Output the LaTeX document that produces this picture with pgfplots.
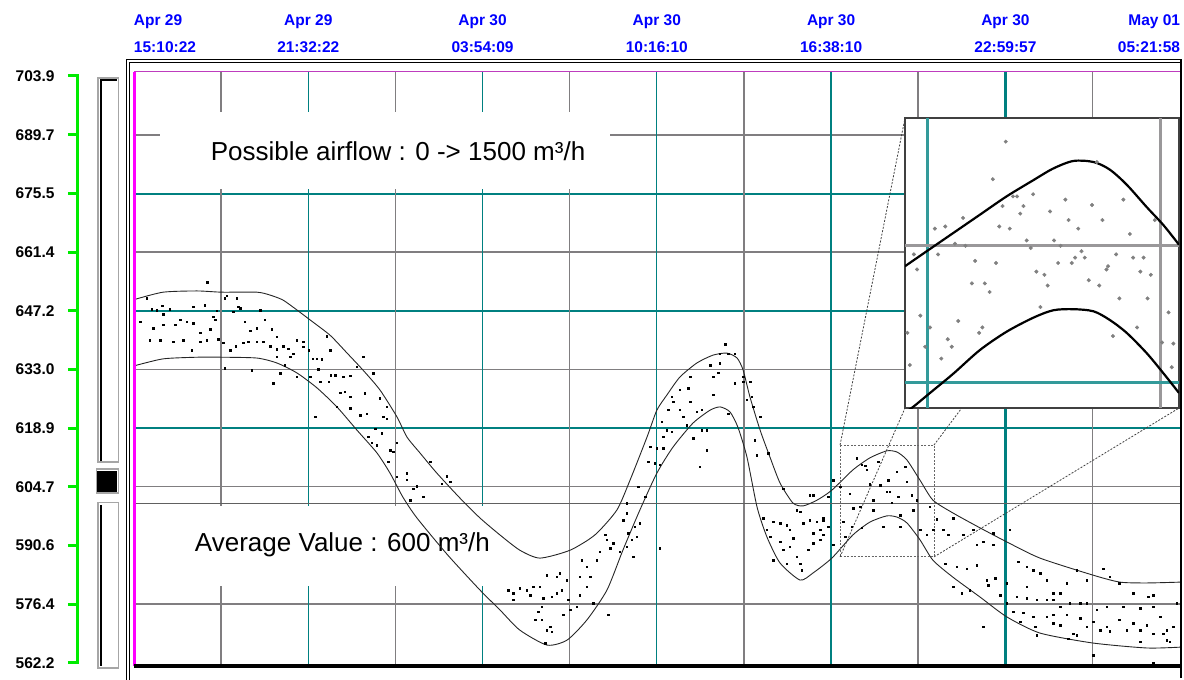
\documentclass[border=0pt]{standalone}
\usepackage{pgfplots}
\pgfplotsset{compat=1.18}
\usepackage{fontspec}
\setmainfont{Liberation Sans}
\definecolor{tealg}{RGB}{0,128,128}
\definecolor{gridg}{RGB}{128,126,128}
\definecolor{avgg}{RGB}{96,96,96}
\definecolor{magl}{RGB}{255,0,255}
\definecolor{topl}{RGB}{190,60,190}
\definecolor{grn}{RGB}{0,235,0}
\definecolor{lblue}{RGB}{0,0,255}
\begin{document}
\begin{tikzpicture}
\useasboundingbox (0pt,0pt) rectangle (1184pt,-680pt);
\begin{axis}[
  at={(134pt,-666pt)}, anchor=south west,
  width=1046pt, height=595pt, scale only axis,
  xmin=0, xmax=38.193, ymin=561.45, ymax=705.1,
  axis line style={draw=none},
  tick style={draw=none}, major tick length=0pt,
  clip=false,
  xtick={0,6.3634,12.7268,19.0902,25.4536,31.817,38.193},
  xticklabel pos=upper,
  xticklabels={
    {\rlap{\begin{tabular}{@{}l@{}}Apr 29\\15:10:22\end{tabular}}},
    {\begin{tabular}{@{}c@{}}Apr 29\\21:32:22\end{tabular}},
    {\begin{tabular}{@{}c@{}}Apr 30\\03:54:09\end{tabular}},
    {\begin{tabular}{@{}c@{}}Apr 30\\10:16:10\end{tabular}},
    {\begin{tabular}{@{}c@{}}Apr 30\\16:38:10\end{tabular}},
    {\begin{tabular}{@{}c@{}}Apr 30\\22:59:57\end{tabular}},
    {\llap{\begin{tabular}{@{}r@{}}May 01\\05:21:58\end{tabular}}}},
  xticklabel style={anchor=south, text=lblue, yshift=7.5pt, font=\bfseries\fontsize{15.5}{26.5}\selectfont},
  ytick={562.2,576.4,590.6,604.7,618.9,633.0,647.2,661.4,675.5,689.7,703.9},
  yticklabels={562.2,576.4,590.6,604.7,618.9,633.0,647.2,661.4,675.5,689.7,703.9},
  yticklabel style={anchor=east, xshift=-76pt, font=\bfseries\fontsize{15.5}{18}\selectfont},
]
% horizontal grid
\draw[gridg, line width=2pt] (axis cs:0,689.7) -- (axis cs:38.193,689.7);
\draw[tealg, line width=2pt] (axis cs:0,675.5) -- (axis cs:38.193,675.5);
\draw[gridg, line width=1.2pt] (axis cs:0,661.4) -- (axis cs:38.193,661.4);
\draw[tealg, line width=2.6pt] (axis cs:0,647.2) -- (axis cs:38.193,647.2);
\draw[gridg, line width=1.2pt] (axis cs:0,633.0) -- (axis cs:38.193,633.0);
\draw[tealg, line width=1.2pt] (axis cs:0,618.9) -- (axis cs:38.193,618.9);
\draw[gridg, line width=1.2pt] (axis cs:0,604.7) -- (axis cs:38.193,604.7);
\draw[gridg, line width=1.2pt] (axis cs:0,576.4) -- (axis cs:38.193,576.4);
% vertical grid
\draw[gridg, line width=1.8pt] (axis cs:3.182,561.45) -- (axis cs:3.182,705.1);
\draw[tealg, line width=1.1pt] (axis cs:6.363,561.45) -- (axis cs:6.363,705.1);
\draw[gridg, line width=1.6pt] (axis cs:9.545,561.45) -- (axis cs:9.545,705.1);
\draw[tealg, line width=1.1pt] (axis cs:12.727,561.45) -- (axis cs:12.727,705.1);
\draw[gridg, line width=1.6pt] (axis cs:15.908,561.45) -- (axis cs:15.908,705.1);
\draw[tealg, line width=1.1pt] (axis cs:19.090,561.45) -- (axis cs:19.090,705.1);
\draw[gridg, line width=1.6pt] (axis cs:22.272,561.45) -- (axis cs:22.272,705.1);
\draw[tealg, line width=2.7pt] (axis cs:25.454,561.45) -- (axis cs:25.454,705.1);
\draw[gridg, line width=2.3pt] (axis cs:28.635,561.45) -- (axis cs:28.635,705.1);
\draw[tealg, line width=2.7pt] (axis cs:31.817,561.45) -- (axis cs:31.817,705.1);
\draw[gridg, line width=1.2pt] (axis cs:34.999,561.45) -- (axis cs:34.999,705.1);
% annotation boxes
\fill[white] (axis cs:0.95,695.2) rectangle (axis cs:17.38,676.6);
\node[anchor=base, font=\fontsize{26}{30}\selectfont] at (axis cs:9.64,683.4) {Possible airflow : 0 -> 1500 m³/h};
\fill[white] (axis cs:0.22,600.1) rectangle (axis cs:14.09,580.8);
\draw[avgg, line width=1.8pt] (axis cs:0,600.7) -- (axis cs:38.193,600.7);
\node[anchor=base, font=\fontsize{26}{30}\selectfont] at (axis cs:7.61,589.0) {Average Value : 600 m³/h};
% green left axis
\draw[grn, line width=3pt] ([xshift=-56pt]axis cs:0,562.0) -- ([xshift=-56pt]axis cs:0,704.2);
\pgfplotsinvokeforeach{562.2,576.4,590.6,604.7,618.9,633.0,647.2,661.4,675.5,689.7,703.9}{
  \draw[grn, line width=3pt] ([xshift=-66pt]axis cs:0,#1) -- ([xshift=-55pt]axis cs:0,#1);
}
% scatter
\addplot[only marks, mark=square*, mark size=0.75pt, black] coordinates {
(2.68,654.1) (0.46,650.2) (1.03,648.4) (1.31,647.6) (0.65,647.6) (0.83,647.4) (1.07,646.4) (0.22,644.6) (0.71,643.0) (1.07,643.8)
(1.50,643.8) (1.68,645.1) (1.92,644.6) (2.17,644.2) (2.41,641.9) (2.78,642.8) (2.96,645.0) (2.90,645.8) (3.02,647.2) (2.59,648.6)
(2.17,648.2) (3.38,650.8) (3.32,650.2) (3.75,650.2) (3.81,648.2) (3.63,647.0) (3.87,647.8) (4.05,644.6) (4.24,642.4) (4.48,643.0)
(4.78,645.0) (5.03,642.8) (5.21,641.0) (4.60,647.4) (0.58,640.1) (0.95,640.1) (1.44,639.7) (1.80,640.1) (2.11,637.7) (2.41,639.7)
(2.65,640.1) (3.08,640.4) (3.26,639.5) (3.51,637.7) (3.72,638.7) (3.99,639.5) (4.17,639.7) (4.48,639.7) (4.72,639.7) (4.97,638.7)
(5.21,637.9) (5.45,638.7) (5.63,638.1) (5.82,636.9) (5.94,640.1) (6.18,639.7) (6.37,637.7) (6.52,635.7) (6.67,635.7) (6.85,635.5)
(7.03,641.1) (7.16,637.7) (6.73,633.1) (7.18,631.7) (7.34,631.7) (7.64,631.3) (7.89,631.5) (8.37,636.1) (8.74,632.1) (8.13,633.7)
(6.43,631.3) (5.94,631.3) (5.51,634.1) (5.33,632.1) (4.30,632.9) (3.32,633.3) (5.09,629.7) (6.79,630.1) (7.10,630.1) (7.52,627.4)
(7.70,627.7) (7.89,626.5) (8.43,627.3) (8.98,626.1) (9.22,624.1) (7.40,624.1) (7.89,623.7) (8.25,622.0) (8.50,622.4) (8.80,618.8)
(9.10,621.6) (9.22,621.2) (6.61,621.6) (8.56,616.8) (8.68,615.4) (8.86,614.8) (9.04,617.6) (9.35,613.6) (9.47,613.2) (9.59,615.4)
(9.29,610.8) (9.59,607.2) (9.96,608.0) (9.96,606.4) (10.20,604.3) (10.32,604.9) (10.56,602.3) (10.08,601.5) (10.81,610.8) (11.42,607.3)
(11.54,606.0) (11.23,605.5) (5.21,636.1) (5.70,636.1) (6.18,638.5)
(21.58,639.2) (21.39,636.9) (21.70,636.8) (21.94,636.8) (21.03,634.1) (21.39,634.5) (21.15,631.3) (21.33,632.3) (21.94,629.7) (22.25,630.1)
(22.49,630.1) (20.30,631.3) (20.24,628.5) (19.93,628.2) (19.63,626.5) (19.69,625.3) (20.30,625.3) (19.51,623.3) (19.93,623.3) (20.06,621.6)
(20.54,622.8) (20.73,623.3) (21.15,626.9) (21.70,622.4) (22.25,631.3) (22.37,625.7) (22.61,624.1) (22.86,621.6) (22.55,626.5) (19.27,620.4)
(19.45,618.4) (19.63,618.0) (19.33,616.8) (20.18,619.6) (20.42,616.4) (20.73,618.4) (20.91,618.4) (18.84,614.4) (19.08,614.0) (19.33,614.0)
(18.78,610.8) (19.02,610.4) (19.20,610.0) (20.66,609.6) (20.91,613.6) (22.67,616.0) (22.73,612.4) (23.16,612.8) (23.71,604.3) (18.66,602.3)
(18.41,604.7) (17.99,600.7) (17.99,598.3) (17.87,596.7) (18.29,595.1) (18.47,595.9) (18.35,592.7) (18.17,591.9) (17.99,590.3) (17.74,589.1)
(17.50,591.1) (17.20,593.1) (17.26,591.9) (17.38,589.9) (17.01,589.1) (16.89,587.0) (16.53,585.4) (16.34,587.0) (16.28,583.0) (16.65,583.0)
(16.53,580.6) (16.28,578.6) (15.86,577.4) (15.61,579.8) (15.55,583.8) (15.43,583.0) (15.80,582.2) (15.07,583.4) (14.82,580.6) (14.58,580.6)
(14.34,579.8) (14.09,580.2) (13.85,579.0) (13.67,579.8) (13.85,577.4) (14.46,578.6) (14.94,577.8) (15.25,578.2) (15.43,579.0) (14.88,575.8)
(14.76,574.6) (14.64,572.6) (14.88,572.6) (15.19,570.9) (15.25,569.7) (15.07,570.1) (15.01,566.9) (15.68,573.8) (15.92,575.0) (16.16,575.8)
(16.77,576.6) (17.32,573.8) (18.05,593.5) (18.23,587.8) (19.20,589.9) (22.98,597.1) (23.34,596.3) (23.10,594.3) (23.59,595.9) (23.83,595.5)
(24.19,599.1) (24.32,598.7) (24.68,602.7) (24.80,602.7) (25.35,602.3) (24.68,596.7) (24.44,595.9) (24.92,596.3) (25.17,596.7) (23.22,592.7)
(23.59,591.5) (24.07,592.3) (23.95,594.3) (24.80,593.5) (25.05,594.3) (25.17,593.1) (23.34,587.0) (23.71,589.5) (23.95,590.3) (24.19,587.8)
(23.83,586.2) (24.80,591.1) (25.05,591.9) (24.32,586.2) (24.38,584.6) (24.62,589.5)
(25.53,606.3) (25.78,604.7) (26.14,603.1) (26.38,611.6) (26.57,610.0) (26.75,608.8) (26.69,609.8) (26.87,605.3) (26.99,601.5) (27.24,605.1)
(27.48,603.5) (27.60,603.5) (27.66,600.9) (27.91,602.3) (28.15,609.6) (28.21,605.9) (27.85,608.4) (27.54,606.3) (27.18,610.8) (28.39,602.7)
(28.58,601.5) (26.26,599.5) (26.51,599.9) (26.99,599.1) (27.97,595.1) (28.45,599.1) (29.06,599.9) (29.30,596.9) (28.70,594.3) (28.94,593.1)
(29.18,594.3) (29.55,594.3) (29.73,593.2) (25.17,597.1) (25.17,593.1) (25.35,595.1) (25.90,596.3) (26.20,595.1) (26.57,594.8) (25.53,590.7)
(25.96,592.7) (27.36,595.1) (27.97,597.9) (29.91,597.1) (30.28,593.1) (30.64,594.3) (30.77,590.7) (31.37,593.5) (31.98,594.3) (31.01,591.5)
(31.37,590.7) (29.61,586.2) (30.04,585.4) (30.40,585.0) (30.77,585.8) (31.13,582.2) (31.19,581.0) (31.44,582.6) (31.86,581.4) (32.29,586.6)
(32.59,585.4) (32.83,584.6) (33.08,583.8) (33.32,582.2) (33.57,579.0) (33.81,579.0) (34.05,581.4) (34.42,584.6) (34.78,582.2) (35.39,585.0)
(35.63,583.0) (35.98,581.4) (36.49,579.0) (37.03,578.2) (37.22,578.6) (38.07,576.6) (37.22,575.8) (36.73,575.4) (36.12,575.8) (35.51,575.8)
(35.15,575.0) (34.78,576.6) (34.54,576.6) (34.17,576.6) (33.81,575.8) (33.57,577.4) (33.32,577.4) (32.96,577.4) (32.59,577.8) (32.23,578.2)
(31.86,576.6) (31.62,578.6) (32.59,580.6) (32.10,574.6) (32.47,574.3) (32.83,573.4) (33.32,573.4) (33.57,573.8) (34.05,573.8) (34.54,573.0)
(35.03,572.2) (35.51,571.0) (35.98,572.6) (36.49,571.8) (36.97,571.3) (37.46,573.4) (37.95,570.9) (32.35,572.2) (32.90,570.9) (33.57,571.8)
(34.29,569.3) (34.78,570.9) (35.27,570.1) (35.63,569.9) (36.24,570.1) (36.73,570.1) (37.22,569.3) (37.58,569.3) (37.82,567.3) (37.70,570.1)
(29.91,580.6) (30.52,579.8) (30.22,579.0) (31.01,570.9) (35.03,564.1) (37.22,562.1) (34.42,568.9) (34.11,568.1) (36.73,567.3) (37.70,567.7)
(33.81,571.3) (32.96,568.9)
};
% envelope curves
\addplot[black!85, line width=0.9pt, smooth, tension=0.4] coordinates {
(0,649.9) (1.06,651.7) (2.30,652.0) (3.21,651.7) (4.49,651.7) (4.97,651.0) (5.44,649.8) (5.95,647.4) (6.43,645.0) (7.16,641.3)
(7.78,637.0) (8.36,632.9) (8.98,628.1) (9.60,621.6) (9.97,616.7) (10.44,612.9) (11.06,608.0) (11.90,602.0) (12.63,597.2) (13.36,593.1)
(14.09,589.4) (14.82,587.5) (15.92,589.4) (16.83,593.1) (17.63,599.1) (18.11,606.3) (18.73,616.7) (19.09,623.2) (19.46,626.9) (19.93,631.2)
(20.55,634.6) (21.14,636.5) (21.65,637.0) (22.02,635.8) (22.24,632.9) (22.49,626.4) (22.86,618.4) (23.22,611.9) (23.59,605.6) (24.06,600.8)
(24.43,600.1) (24.94,601.5) (25.48,603.9) (26.25,608.8) (26.87,611.7) (27.49,613.4) (27.86,613.1) (28.22,611.2) (28.70,606.3) (29.17,601.5)
(29.90,598.4) (30.89,594.8) (31.87,591.4) (33.08,587.5) (35.01,583.4) (36.00,581.7) (36.98,581.5) (38.19,581.7)
};
\addplot[black!85, line width=0.9pt, smooth, tension=0.4] coordinates {
(0,633.9) (1.06,635.6) (2.30,636.0) (3.21,636.0) (4.49,635.8) (5.22,634.6) (5.95,632.2) (6.68,628.6) (7.41,624.0) (8.14,618.4)
(8.87,612.9) (9.35,608.0) (9.82,602.2) (10.33,597.2) (11.46,588.2) (12.63,579.8) (13.36,575.0) (14.09,570.1) (15.08,566.5) (15.81,567.7)
(16.54,572.6) (17.27,579.8) (17.85,589.4) (18.47,599.1) (19.09,608.0) (19.68,614.3) (20.41,620.1) (21.03,623.2) (21.40,624.0) (21.76,622.8)
(22.05,619.1) (22.38,611.9) (22.75,599.8) (23.11,592.6) (23.59,586.3) (24.32,582.2) (24.79,583.9) (25.48,587.5) (26.25,593.1) (26.87,596.2)
(27.49,597.7) (27.86,597.4) (28.22,596.0) (28.70,591.9) (29.17,587.0) (29.90,582.9) (30.89,578.1) (31.87,573.3) (33.08,569.4) (35.01,567.0)
(36.98,565.8) (38.19,566.0)
};
% zoom rectangle and connectors
\draw[black!60, line width=0.9pt, dash pattern=on 2pt off 1.5pt] (axis cs:25.78,614.8) rectangle (axis cs:29.21,587.8);
\draw[black!75, line width=0.8pt, dash pattern=on 2pt off 1.5pt] (axis cs:25.78,614.8) -- (axis cs:28.15,693.7);
\draw[black!75, line width=0.8pt, dash pattern=on 2pt off 1.5pt] (axis cs:25.78,587.8) -- (axis cs:28.15,623.7);
\draw[black!75, line width=0.8pt, dash pattern=on 2pt off 1.5pt] (axis cs:29.21,614.8) -- (axis cs:38.15,693.7);
\draw[black!75, line width=0.8pt, dash pattern=on 2pt off 1.5pt] (axis cs:29.21,587.8) -- (axis cs:38.15,623.7);
\end{axis}
% inset
\begin{axis}[
  at={(905pt,-408pt)}, anchor=south west,
  width=274pt, height=290pt, scale only axis,
  xmin=25.8, xmax=29.2, ymin=588, ymax=615,
  ticks=none,
  axis line style={draw=black!75, line width=1.3pt},
  axis background/.style={fill=white},
]
\draw[tealg!80, line width=2.6pt] (axis cs:26.08,588) -- (axis cs:26.08,615);
\draw[gridg!80, line width=2.8pt] (axis cs:28.97,588) -- (axis cs:28.97,615);
\draw[gridg!80, line width=2.3pt] (axis cs:25.8,603.12) -- (axis cs:29.2,603.12);
\draw[tealg!80, line width=2.6pt] (axis cs:25.8,590.36) -- (axis cs:29.2,590.36);
\addplot[only marks, mark=*, mark size=1.8pt, mark options={draw=black!50, fill=black!50}] coordinates {
(27.05,612.8) (26.89,609.3) (28.18,610.9) (27.14,607.7) (27.19,607.7) (27.39,607.9) (27.01,606.8) (27.27,606.8) (27.23,606.1) (27.60,606.3)
(27.79,607.4) (28.12,606.9) (28.51,607.4) (27.83,605.5) (27.95,604.7) (28.25,605.5) (26.97,604.9) (27.10,604.7) (28.90,605.5) (28.59,604.2)
(26.17,604.7) (26.30,604.9) (26.52,605.7) (26.42,603.3) (26.55,603.1) (27.31,603.6) (27.36,602.9) (27.65,603.6) (27.73,603.1) (27.99,602.6)
(27.91,602.0) (28.03,602.0) (27.87,601.5) (27.70,601.5) (28.42,602.3) (28.63,602.0) (28.76,602.0) (25.91,602.3) (25.95,600.9) (26.21,602.3)
(26.67,601.7) (26.93,601.5) (27.43,600.7) (27.53,600.4) (27.57,599.4) (28.08,599.9) (28.21,599.4) (28.30,600.9) (28.32,601.2) (28.72,600.7)
(28.85,600.4) (26.63,599.6) (26.79,599.6) (26.85,598.8) (27.48,597.4) (28.46,598.2) (28.81,598.2) (25.99,596.6) (26.11,595.5) (26.46,596.1)
(26.76,595.5) (26.72,595.0) (25.83,595.0) (26.05,593.7) (26.33,594.4) (26.38,593.7) (26.25,592.6) (25.86,592.0) (28.38,594.7) (28.68,595.5)
(29.07,596.9) (28.99,594.1) (29.13,594.0) (29.11,591.8)
};
\addplot[black, line width=2.2pt, smooth] coordinates {
(25.80,601.2) (26.07,602.6) (26.40,604.3) (26.73,606.0) (27.06,607.7) (27.39,609.2) (27.64,610.3) (27.89,611.0) (28.14,610.9) (28.34,610.2)
(28.55,608.8) (28.80,606.7) (29.01,605.0) (29.20,603.2)
};
\addplot[black, line width=2.2pt, smooth] coordinates {
(25.80,587.6) (25.90,588.1) (26.11,589.4) (26.40,591.2) (26.73,593.4) (27.06,595.1) (27.39,596.4) (27.64,597.1) (27.89,597.2) (28.14,597.0)
(28.34,596.2) (28.55,595.0) (28.80,593.1) (29.01,591.2) (29.20,589.4)
};
\end{axis}
% decorations in pixel units
\begin{scope}[x=1pt,y=-1pt]
  % scrollbar
  \draw[gray!70, line width=1.5pt] (98,78) rectangle (118.5,462);
  \draw[black, line width=2pt] (101,461) -- (101,80) -- (117,80);
  \draw[gray!70, line width=1.2pt] (96.5,469) rectangle (118.5,493);
  \fill[black] (97,471) rectangle (117,492);
  \draw[gray!70, line width=1.5pt] (98,502.5) rectangle (118.5,668);
  \draw[black, line width=2pt] (101,505) -- (101,666);
  % outer frame
  \draw[black, line width=1pt] (126,680) -- (126,59) -- (1181,59);
  \draw[black, line width=1pt] (129.5,680) -- (129.5,62.5) -- (1181,62.5);
  \draw[black, line width=2pt] (1181,59) -- (1181,678);
  % plot borders
  \draw[topl, line width=1pt] (134,71.5) -- (1180,71.5);
  \draw[magl, line width=2.8pt] (134.8,72) -- (134.8,666);
  \draw[black, line width=3.6pt] (134,666) -- (1180,666);
\end{scope}
\end{tikzpicture}
\end{document}
